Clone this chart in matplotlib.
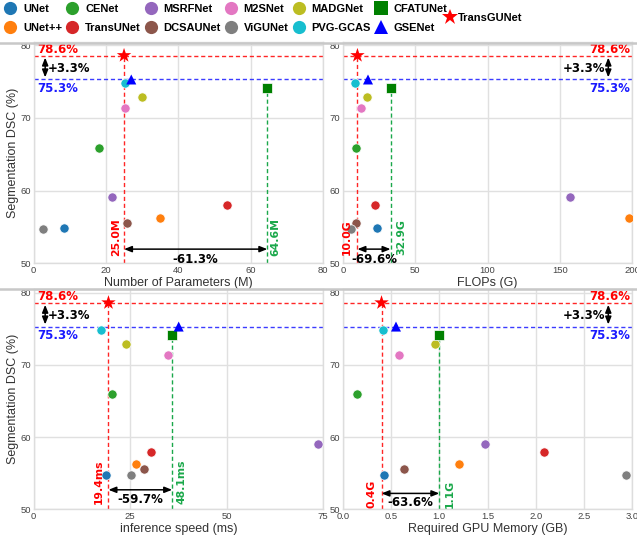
import matplotlib
matplotlib.use('Agg')
import matplotlib.pyplot as plt
from matplotlib.lines import Line2D
import matplotlib.transforms as mtransforms

# ---------------- data ----------------
models = ['UNet', 'UNet++', 'CENet', 'TransUNet', 'MSRFNet', 'DCSAUNet', 'M2SNet',
          'ViGUNet', 'MADGNet', 'PVG-GCAS', 'CFATUNet', 'GSENet', 'TransGUNet']
colors = ['#1f77b4', '#ff7f0e', '#2ca02c', '#d62728', '#9467bd', '#8c564b', '#e377c2',
          '#7f7f7f', '#bcbd22', '#17becf', '#008000', '#0000ff', '#ff0000']
markers = ['o'] * 10 + ['s', '^', '*']

dsc = [54.8, 56.3, 65.9, 58.0, 59.1, 55.6, 71.4, 54.7, 72.9, 74.8, 74.1, 75.3, 78.6]
params_m = [8.3, 35.0, 18.1, 53.4, 21.7, 25.9, 25.4, 2.5, 29.9, 25.3, 64.6, 27.0, 25.0]
flops_g = [23.8, 198.2, 9.2, 22.0, 157.2, 9.2, 12.7, 5.8, 16.9, 8.1, 32.9, 17.3, 10.0]
speed_ms = [18.8, 26.6, 20.3, 30.3, 73.7, 28.6, 34.9, 25.2, 24.0, 17.4, 35.9, 37.6, 19.4]
memory_gb = [0.43, 1.20, 0.15, 2.09, 1.47, 0.63, 0.58, 2.94, 0.96, 0.42, 1.00, 0.55, 0.40]

ours_dsc = 78.6
best_dsc = 75.3
ours_lbl = ['25.0M', '10.0G', '19.4ms', '0.4G']
comp_lbl = ['64.6M', '32.9G', '48.1ms', '1.1G']
reduction_lbl = ['-61.3%', '-69.6%', '-59.7%', '-63.6%']
xlabels = ['Number of Parameters (M)', 'FLOPs (G)', 'inference speed (ms)', 'Required GPU Memory (GB)']
xticks = [[0, 20, 40, 60, 80], [0, 50, 100, 150, 200], [0, 25, 50, 75],
          [0.0, 0.5, 1.0, 1.5, 2.0, 2.5, 3.0]]
yticks = [50, 60, 70, 80]

# ---------------- style ----------------
W, H = 637, 537
fig = plt.figure(figsize=(W / 100, H / 100), dpi=100)

RED = '#ff0000'
BLUE = '#1a1aff'
GREEN = '#1aa84a'
TFONT = 'Liberation Sans'

panels = [
    dict(xs=params_m, pos=[33.6, 41.7, 289.4, 221.6], side='left', ylab=True,
         rot_y=53.65, arr_y=51.95, pct_y=50.55, dl=-2.5, dr=3.0),
    dict(xs=flops_g, pos=[343, 41.7, 289, 221.6], side='right', ylab=False,
         rot_y=53.65, arr_y=51.95, pct_y=50.55, dl=-5.5, dr=5.5),
    dict(xs=speed_ms, pos=[33.6, 289.0, 289.4, 220.3], side='left', ylab=True,
         rot_y=53.75, arr_y=52.7, pct_y=51.3, dl=-4.3, dr=4.3),
    dict(xs=memory_gb, pos=[343, 289.0, 289, 220.3], side='right', ylab=False,
         rot_y=52.15, arr_y=52.2, pct_y=50.9, dl=-4.7, dr=5.5),
]

sizes = {'o': 44, 's': 62, '^': 52, '*': 120}

for k, p in enumerate(panels):
    x0, ytop, w, h = p['pos']
    ax = fig.add_axes([x0 / W, 1 - (ytop + h) / H, w / W, h / H])
    ax.set_facecolor('white')
    xs = p['xs']
    ax.set_xlim(xticks[k][0], xticks[k][-1])
    ax.set_ylim(50, 80.5)
    ax.set_xticks(xticks[k])
    ax.set_yticks(yticks)
    if k == 3:
        ax.set_xticklabels(['%.1f' % t for t in xticks[k]])
    ax.grid(True, color='#e0e0e0', linewidth=1.0, zorder=0)
    ax.set_axisbelow(True)
    for s in ax.spines.values():
        s.set_color('#dddddd')
        s.set_linewidth(1.0)
    ax.tick_params(length=0, pad=2, labelsize=6.8, labelcolor='#444444')
    for lab in ax.get_xticklabels() + ax.get_yticklabels():
        lab.set_fontfamily(TFONT)
    ax.set_xlabel(xlabels[k], fontsize=9, family=TFONT, color='#333333', labelpad=1.5)
    if p['ylab']:
        ax.set_ylabel('Segmentation DSC (%)', fontsize=9, family=TFONT, color='#333333', labelpad=1.0)

    # reference lines
    ax.axhline(ours_dsc, color=RED, ls=(0, (3, 2)), lw=1.0, alpha=0.85, zorder=2)
    ax.axhline(best_dsc, color=BLUE, ls=(0, (3, 2)), lw=1.0, alpha=0.85, zorder=2)
    x_ours = xs[12]
    x_comp = xs[10]
    ax.plot([x_ours, x_ours], [50, dsc[12]], color=RED, ls=(0, (3, 2)), lw=1.0, alpha=0.85, zorder=2)
    ax.plot([x_comp, x_comp], [50, dsc[10]], color=GREEN, ls=(0, (3, 2)), lw=1.0, zorder=2)

    # points
    for i in range(len(models)):
        m = markers[i]
        ec = 'white' if m in ('o', 's') else 'none'
        ax.scatter(xs[i], dsc[i], c=colors[i], marker=m, s=sizes[m], edgecolors=ec,
                   linewidths=0.5, zorder=5 if m == '*' else 4)

    bt = mtransforms.blended_transform_factory(ax.transAxes, ax.transData)
    if p['side'] == 'left':
        tx, tha = 0.014, 'left'
        ax_x = 0.04
        gx, gha = 0.05, 'left'
    else:
        tx, tha = 0.993, 'right'
        ax_x = 0.918
        gx, gha = 0.909, 'right'
    ax.text(tx, 79.45, '%.1f%%' % ours_dsc, transform=bt, ha=tha, va='center',
            color=RED, fontsize=8.5, fontweight='bold', zorder=6)
    ax.text(tx, 74.1, '%.1f%%' % best_dsc, transform=bt, ha=tha, va='center',
            color=BLUE, fontsize=8.5, fontweight='bold', zorder=6)
    ax.annotate('', xy=(ax_x, best_dsc), xytext=(ax_x, ours_dsc), xycoords=bt, textcoords=bt,
                arrowprops=dict(arrowstyle='<|-|>,head_length=0.45,head_width=0.18',
                                color='black', lw=1.1, shrinkA=1.5, shrinkB=1.5,
                                mutation_scale=10), zorder=6)
    ax.text(gx, 76.8, '+%.1f%%' % (ours_dsc - best_dsc), transform=bt, ha=gha, va='center',
            color='black', fontsize=8.5, fontweight='bold', zorder=6)

    # cost labels
    ax.annotate(ours_lbl[k], xy=(x_ours, p['rot_y']), xytext=(p['dl'], 0),
                textcoords='offset pixels', rotation=90, ha='right', va='center',
                color=RED, fontsize=7.8, fontweight='bold', zorder=6)
    ax.annotate(comp_lbl[k], xy=(x_comp, p['rot_y']), xytext=(p['dr'], 0),
                textcoords='offset pixels', rotation=90, ha='left', va='center',
                color=GREEN, fontsize=7.8, fontweight='bold', zorder=6)
    ax.annotate('', xy=(x_comp, p['arr_y']), xytext=(x_ours, p['arr_y']),
                arrowprops=dict(arrowstyle='<|-|>,head_length=0.45,head_width=0.18',
                                color='black', lw=1.1, shrinkA=0, shrinkB=0,
                                mutation_scale=10), zorder=6)
    ax.text((x_ours + x_comp) / 2, p['pct_y'], reduction_lbl[k], ha='center', va='center',
            color='black', fontsize=8.5, fontweight='bold', zorder=6, clip_on=False)

# separator lines across the figure
for ypx in (42.5, 288.5):
    fig.add_artist(Line2D([0, 1], [1 - ypx / H] * 2, transform=fig.transFigure,
                          color='#c8c8c8', lw=1.8, zorder=10))

# legend
handles = []
for i in range(12):
    ms = 9.5 if markers[i] in ('o', 's') else 10.5
    handles.append(Line2D([], [], marker=markers[i], color=colors[i], linestyle='',
                          markersize=ms, markeredgewidth=0))
leg_font = dict(family=TFONT, weight='bold', size=8)
fig.legend(handles, models[:12], ncol=6, loc='upper left', bbox_to_anchor=(0.0, 1.0),
           frameon=False, prop=leg_font, handletextpad=0.55, columnspacing=0.3,
           labelspacing=0.8, handlelength=1.2, borderpad=0.33, borderaxespad=0.0)
star = Line2D([], [], marker='*', color=RED, linestyle='', markersize=12, markeredgewidth=0)
fig.legend([star], ['TransGUNet'], loc='center left', bbox_to_anchor=(443 / W, 1 - 18 / H),
           frameon=False, prop=leg_font, handletextpad=0.15, handlelength=1.2,
           borderpad=0.0, borderaxespad=0.0)

fig.savefig('out.png', dpi=100)
